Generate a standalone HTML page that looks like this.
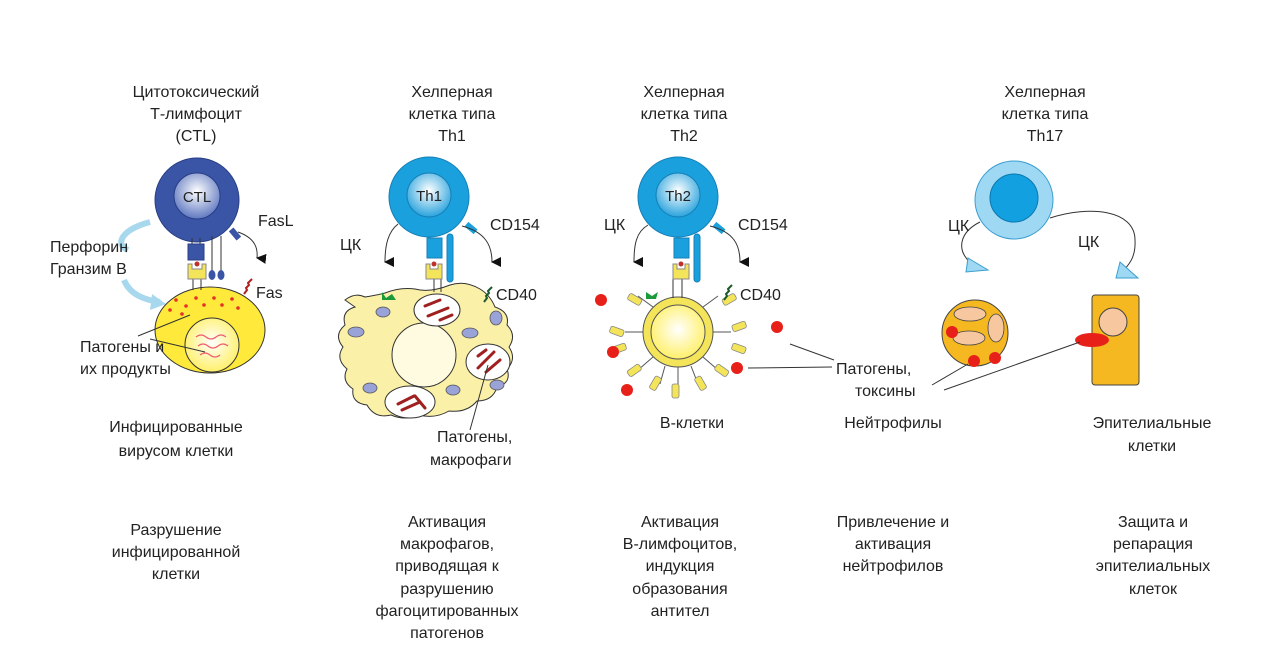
<!DOCTYPE html>
<html><head><meta charset="utf-8"><style>
html,body{margin:0;padding:0;background:#fff;}
svg{display:block;}
text{font-family:"Liberation Sans",Arial,sans-serif;font-size:16px;fill:#222;}
.c{text-anchor:middle;}
</style></head><body>
<svg width="1280" height="666" viewBox="0 0 1280 666" xmlns="http://www.w3.org/2000/svg">
<defs>
<radialGradient id="gin" cx="50%" cy="40%" r="60%"><stop offset="0" stop-color="#ffffff"/><stop offset="1" stop-color="#5f78c0"/></radialGradient>
<radialGradient id="gin2" cx="50%" cy="40%" r="60%"><stop offset="0" stop-color="#ffffff"/><stop offset="1" stop-color="#2aa3dd"/></radialGradient>
<radialGradient id="gy" cx="50%" cy="45%" r="55%"><stop offset="0" stop-color="#ffffff"/><stop offset="1" stop-color="#fff06a"/></radialGradient>
<marker id="ah" viewBox="0 0 10 10" refX="5" refY="9" markerWidth="10" markerHeight="10" orient="auto-start-reverse"><path d="M0,0 L10,0 L5,10z" fill="#111"/></marker>
</defs>

<text class="c" x="196" y="97">Цитотоксический</text>
<text class="c" x="196" y="119">Т-лимфоцит</text>
<text class="c" x="196" y="141">(CTL)</text>
<text class="c" x="452" y="97">Хелперная</text>
<text class="c" x="452" y="119">клетка типа</text>
<text class="c" x="452" y="141">Th1</text>
<text class="c" x="684" y="97">Хелперная</text>
<text class="c" x="684" y="119">клетка типа</text>
<text class="c" x="684" y="141">Th2</text>
<text class="c" x="1045" y="97">Хелперная</text>
<text class="c" x="1045" y="119">клетка типа</text>
<text class="c" x="1045" y="141">Th17</text>

<!-- CTL -->
<path d="M150,222 C120,230 115,245 128,250 M124,280 C130,295 145,300 160,302" stroke="#a8d8ee" stroke-width="6" fill="none"/>
<path d="M152,294 L166,304 L150,310z" fill="#a8d8ee"/>
<ellipse cx="210" cy="330" rx="55" ry="43" fill="#ffe93a" stroke="#333" stroke-width="1"/>
<circle cx="212" cy="345" r="27" fill="url(#gy)" stroke="#333" stroke-width="1"/>
<path d="M196,337 q5,-4 10,0 t10,0 t10,0 M198,346 q5,-4 10,0 t10,0 t10,0 M200,355 q5,-4 10,0 t10,0" stroke="#f06070" stroke-width="1.2" fill="none"/>
<g fill="#e8302a"><circle cx="176" cy="300" r="1.8"/><circle cx="186" cy="306" r="1.8"/><circle cx="196" cy="298" r="1.8"/><circle cx="204" cy="305" r="1.8"/><circle cx="214" cy="298" r="1.8"/><circle cx="222" cy="305" r="1.8"/><circle cx="232" cy="299" r="1.8"/><circle cx="238" cy="308" r="1.8"/><circle cx="182" cy="314" r="1.8"/><circle cx="170" cy="310" r="1.8"/></g>
<line x1="138" y1="336" x2="190" y2="315" stroke="#333" stroke-width="1"/>
<line x1="150" y1="339" x2="205" y2="352" stroke="#333" stroke-width="1"/>
<line x1="193" y1="278" x2="193" y2="290" stroke="#333"/><line x1="201" y1="278" x2="201" y2="290" stroke="#333"/>
<circle cx="197" cy="200" r="42" fill="#3b55a6" stroke="#283e84"/>
<circle cx="197" cy="196" r="23" fill="url(#gin)" stroke="#283e84"/>
<text class="c" x="197" y="202" style="font-size:15px">CTL</text>
<line x1="192" y1="238" x2="192" y2="245" stroke="#333"/><line x1="200" y1="238" x2="200" y2="245" stroke="#333"/>
<rect x="188" y="244" width="16" height="16" fill="#3b55a6" stroke="#283e84"/>
<path d="M188,264 h4 v5 h10 v-5 h4 v15 h-18z" fill="#f3e45a" stroke="#888"/>
<circle cx="197" cy="264" r="2.5" fill="#c0302a"/>
<line x1="212" y1="236" x2="212" y2="272" stroke="#333"/><line x1="221" y1="236" x2="221" y2="272" stroke="#333"/>
<ellipse cx="212" cy="275" rx="3.5" ry="5" fill="#3b55a6"/><ellipse cx="221" cy="275" rx="3.5" ry="5" fill="#3b55a6"/>
<rect x="232" y="228" width="6" height="12" fill="#3b55a6" transform="rotate(-40 235 234)"/>
<path d="M238,232 C255,238 258,248 257,258" stroke="#333" fill="none" marker-end="url(#ah)"/>
<path d="M244,294 l3,-4 l-1,-2 l3,-3 l-1,-2 l4,-4" stroke="#b02020" stroke-width="2" fill="none"/>
<text x="258" y="226">FasL</text>
<text x="256" y="298">Fas</text>
<text x="50" y="252">Перфорин</text>
<text x="50" y="274">Гранзим В</text>
<text x="80" y="352">Патогены и</text>
<text x="80" y="374">их продукты</text>
<text class="c" x="176" y="432">Инфицированные</text>
<text class="c" x="176" y="456">вирусом клетки</text>

<!-- Th1 / macrophage -->
<path d="M345,300 q10,-8 20,-3 q12,-2 20,-4 q15,-6 30,-4 q15,4 35,-4 q15,-5 30,4 q10,6 15,18 q15,5 12,18 q10,10 2,22 q8,12 -2,22 q5,14 -10,18 q-4,14 -20,14 q-10,12 -28,10 q-14,8 -30,4 q-14,6 -28,0 q-16,4 -24,-10 q-16,-2 -14,-16 q-12,-8 -6,-20 q-12,-10 -4,-22 q-10,-12 2,-22 q-4,-14 10,-18z" fill="#fbf0a8" stroke="#333" stroke-width="1"/>
<circle cx="424" cy="355" r="32" fill="#fffbe0" stroke="#333"/>
<g fill="#fff" stroke="#333"><ellipse cx="437" cy="310" rx="23" ry="16"/><ellipse cx="488" cy="362" rx="22" ry="18"/><ellipse cx="410" cy="402" rx="25" ry="16"/></g>
<g stroke="#a02020" stroke-width="3" stroke-linecap="round"><line x1="425" y1="306" x2="440" y2="300"/><line x1="428" y1="316" x2="448" y2="308"/><line x1="440" y1="320" x2="452" y2="315"/><line x1="478" y1="368" x2="494" y2="352"/><line x1="486" y1="372" x2="500" y2="360"/><line x1="478" y1="356" x2="486" y2="350"/><line x1="398" y1="404" x2="414" y2="396"/><line x1="402" y1="410" x2="420" y2="402"/><line x1="415" y1="396" x2="425" y2="408"/></g>
<g fill="#9aa3d8" stroke="#555" stroke-width="0.8"><ellipse cx="383" cy="312" rx="7" ry="5"/><ellipse cx="356" cy="332" rx="8" ry="5"/><ellipse cx="370" cy="388" rx="7" ry="5"/><ellipse cx="470" cy="333" rx="8" ry="5"/><ellipse cx="496" cy="318" rx="6" ry="7"/><ellipse cx="453" cy="390" rx="7" ry="5"/><ellipse cx="497" cy="385" rx="7" ry="5"/></g>
<path d="M382,292 l4,6 l6,-4 l4,6 h-14z" fill="#1a9a3a"/>
<line x1="434" y1="279" x2="434" y2="292" stroke="#333"/><line x1="441" y1="279" x2="441" y2="292" stroke="#333"/>
<line x1="488" y1="365" x2="470" y2="430" stroke="#333"/>
<circle cx="429" cy="197" r="40" fill="#1aa0dc" stroke="#1580b8"/>
<circle cx="429" cy="195" r="22" fill="url(#gin2)" stroke="#1580b8"/>
<text class="c" x="429" y="201" style="font-size:15px">Th1</text>
<rect x="427" y="238" width="15" height="20" fill="#1aa0dc" stroke="#1580b8"/>
<rect x="447" y="234" width="6" height="48" rx="3" fill="#1aa0dc" stroke="#1580b8"/>
<path d="M426,264 h4 v5 h8 v-5 h4 v15 h-16z" fill="#f3e45a" stroke="#888"/>
<circle cx="434" cy="264" r="2.5" fill="#c0302a"/>
<rect x="468" y="222" width="6" height="12" fill="#1aa0dc" transform="rotate(-50 471 228)"/>
<path d="M398,224 C388,232 385,245 385,262" stroke="#333" fill="none" marker-end="url(#ah)"/>
<path d="M462,226 C485,232 492,245 492,262" stroke="#333" fill="none" marker-end="url(#ah)"/>
<path d="M484,302 l3,-4 l-1,-2 l3,-3 l-1,-2 l4,-4" stroke="#1a5a2a" stroke-width="2" fill="none"/>
<text x="340" y="250">ЦК</text>
<text x="490" y="230">CD154</text>
<text x="496" y="300">CD40</text>
<text x="437" y="442">Патогены,</text>
<text x="430" y="465">макрофаги</text>

<!-- Th2 / B cell -->
<g stroke="#555" stroke-width="1">
<line x1="643" y1="332" x2="625" y2="332"/><line x1="713" y1="332" x2="731" y2="332"/>
<line x1="653" y1="357" x2="638" y2="370"/><line x1="703" y1="357" x2="718" y2="370"/>
<line x1="665" y1="366" x2="660" y2="384"/><line x1="691" y1="366" x2="698" y2="384"/>
<line x1="678" y1="367" x2="678" y2="386"/>
<line x1="653" y1="307" x2="638" y2="296"/><line x1="703" y1="307" x2="718" y2="296"/>
</g>
<g fill="#f3e45a" stroke="#888" stroke-width="0.8">
<rect x="610" y="328" width="14" height="7" rx="2" transform="rotate(20 617 331)"/>
<rect x="612" y="345" width="14" height="7" rx="2" transform="rotate(-20 619 348)"/>
<rect x="627" y="367" width="14" height="7" rx="2" transform="rotate(-35 634 370)"/>
<rect x="648" y="380" width="14" height="7" rx="2" transform="rotate(-60 655 383)"/>
<rect x="672" y="384" width="7" height="14" rx="2"/>
<rect x="694" y="380" width="14" height="7" rx="2" transform="rotate(60 701 383)"/>
<rect x="715" y="367" width="14" height="7" rx="2" transform="rotate(35 722 370)"/>
<rect x="732" y="345" width="14" height="7" rx="2" transform="rotate(20 739 348)"/>
<rect x="732" y="323" width="14" height="7" rx="2" transform="rotate(-20 739 326)"/>
<rect x="722" y="296" width="14" height="7" rx="2" transform="rotate(-30 729 299)"/>
<rect x="628" y="296" width="14" height="7" rx="2" transform="rotate(30 635 299)"/>
</g>
<circle cx="678" cy="332" r="35" fill="#f3e45a" stroke="#555"/>
<circle cx="678" cy="332" r="27" fill="url(#gy)" stroke="#555"/>
<g fill="#e8201a"><circle cx="601" cy="300" r="6"/><circle cx="613" cy="352" r="6"/><circle cx="777" cy="327" r="6"/><circle cx="737" cy="368" r="6"/><circle cx="627" cy="390" r="6"/></g>
<path d="M646,292 l6,4 l6,-4 l-2,7 h-10z" fill="#1a9a3a"/>
<path d="M724,300 l3,-4 l-1,-2 l3,-3 l-1,-2 l4,-4" stroke="#1a5a2a" stroke-width="2" fill="none"/>
<line x1="673" y1="279" x2="673" y2="298" stroke="#333"/><line x1="682" y1="279" x2="682" y2="298" stroke="#333"/>
<circle cx="678" cy="197" r="40" fill="#1aa0dc" stroke="#1580b8"/>
<circle cx="678" cy="195" r="22" fill="url(#gin2)" stroke="#1580b8"/>
<text class="c" x="678" y="201" style="font-size:15px">Th2</text>
<rect x="674" y="238" width="15" height="20" fill="#1aa0dc" stroke="#1580b8"/>
<rect x="694" y="234" width="6" height="48" rx="3" fill="#1aa0dc" stroke="#1580b8"/>
<path d="M673,264 h4 v5 h8 v-5 h4 v15 h-16z" fill="#f3e45a" stroke="#888"/>
<circle cx="681" cy="264" r="2.5" fill="#c0302a"/>
<rect x="716" y="222" width="6" height="12" fill="#1aa0dc" transform="rotate(-50 719 228)"/>
<path d="M648,225 C636,232 634,245 634,262" stroke="#333" fill="none" marker-end="url(#ah)"/>
<path d="M710,226 C734,232 740,245 740,262" stroke="#333" fill="none" marker-end="url(#ah)"/>
<text x="604" y="230">ЦК</text>
<text x="738" y="230">CD154</text>
<text x="740" y="300">CD40</text>
<line x1="790" y1="344" x2="834" y2="360" stroke="#333"/>
<line x1="748" y1="368" x2="832" y2="367" stroke="#333"/>
<text class="c" x="692" y="428">В-клетки</text>

<!-- Th17 -->
<circle cx="1014" cy="200" r="39" fill="#9fd8f2" stroke="#3a9ed0"/>
<circle cx="1014" cy="198" r="24" fill="#12a0e0" stroke="#0a78b0"/>
<path d="M980,222 C960,232 955,250 972,264" stroke="#333" fill="none"/>
<path d="M968,258 L988,270 L966,272z" fill="#9fd8f2" stroke="#3a9ed0"/>
<path d="M1050,218 C1090,205 1135,210 1135,240 C1136,258 1128,265 1124,270" stroke="#333" fill="none"/>
<path d="M1120,262 L1138,278 L1116,278z" fill="#9fd8f2" stroke="#3a9ed0"/>
<text x="948" y="231">ЦК</text>
<text x="1078" y="247">ЦК</text>
<circle cx="975" cy="333" r="33" fill="#f5b820" stroke="#444"/>
<g fill="#f7c8a0" stroke="#444" stroke-width="0.8"><ellipse cx="970" cy="314" rx="16" ry="7"/><ellipse cx="996" cy="328" rx="8" ry="14"/><ellipse cx="969" cy="338" rx="16" ry="7"/></g>
<g fill="#e8201a"><circle cx="952" cy="332" r="6"/><circle cx="974" cy="361" r="6"/><circle cx="995" cy="358" r="6"/></g>
<rect x="1092" y="295" width="47" height="90" rx="3" fill="#f5b820" stroke="#444"/>
<circle cx="1113" cy="322" r="14" fill="#f7c8a0" stroke="#444"/>
<ellipse cx="1092" cy="340" rx="17" ry="7" fill="#e8201a"/>
<line x1="968" y1="364" x2="932" y2="385" stroke="#333"/>
<line x1="1080" y1="342" x2="944" y2="390" stroke="#333"/>
<text x="836" y="374">Патогены,</text>
<text x="855" y="396">токсины</text>
<text class="c" x="893" y="428">Нейтрофилы</text>
<text class="c" x="1152" y="428">Эпителиальные</text>
<text class="c" x="1152" y="451">клетки</text>

<!-- bottom -->
<text class="c" x="176" y="535">Разрушение</text>
<text class="c" x="176" y="557">инфицированной</text>
<text class="c" x="176" y="579">клетки</text>
<text class="c" x="447" y="527">Активация</text>
<text class="c" x="447" y="549">макрофагов,</text>
<text class="c" x="447" y="571">приводящая к</text>
<text class="c" x="447" y="594">разрушению</text>
<text class="c" x="447" y="616">фагоцитированных</text>
<text class="c" x="447" y="638">патогенов</text>
<text class="c" x="680" y="527">Активация</text>
<text class="c" x="680" y="549">В-лимфоцитов,</text>
<text class="c" x="680" y="571">индукция</text>
<text class="c" x="680" y="594">образования</text>
<text class="c" x="680" y="616">антител</text>
<text class="c" x="893" y="527">Привлечение и</text>
<text class="c" x="893" y="549">активация</text>
<text class="c" x="893" y="571">нейтрофилов</text>
<text class="c" x="1153" y="527">Защита и</text>
<text class="c" x="1153" y="549">репарация</text>
<text class="c" x="1153" y="571">эпителиальных</text>
<text class="c" x="1153" y="594">клеток</text>
</svg>
</body></html>
